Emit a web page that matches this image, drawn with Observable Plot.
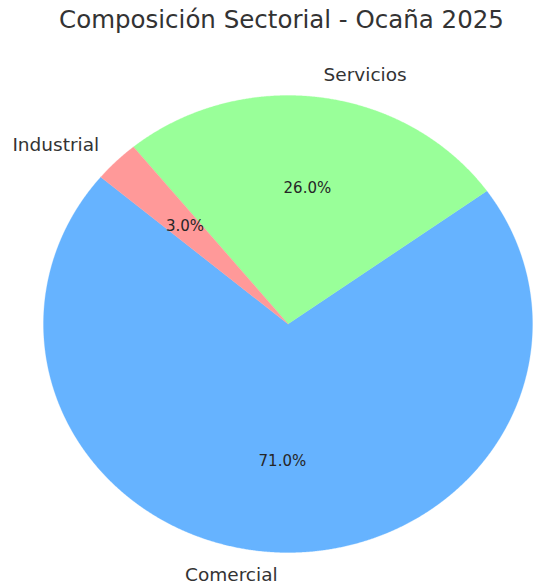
<!DOCTYPE html>
<html>
<head>
<meta charset="utf-8">
<script src="https://cdn.jsdelivr.net/npm/d3@7"></script>
<script src="https://cdn.jsdelivr.net/npm/@observablehq/plot@0.6"></script>
<style>
  html, body { margin: 0; padding: 0; background: white; }
  #title {
    width: 534px; box-sizing: border-box; height: 46px;
    padding-top: 8px; padding-left: 29px; text-align: center;
    font-family: "DejaVu Sans", sans-serif; font-size: 24.5px; line-height: 24.5px;
    color: #333; white-space: nowrap;
  }
</style>
</head>
<body>
<div id="title">Composición Sectorial - Ocaña 2025</div>
<div id="chart"></div>
<script>
const labels = ["Comercial", "Servicios", "Industrial"];
const values = [71, 26, 3];
const colors = ["#66b3ff", "#99ff99", "#ff9999"];
const startAngle = 140; // degrees, counter-clockwise

const total = d3.sum(values);
let acc = startAngle;
const slices = labels.map((label, i) => {
  const a0 = acc;
  const a1 = acc + 360 * values[i] / total;
  acc = a1;
  return {label, value: values[i], a0, a1, mid: (a0 + a1) / 2};
});

const rad = d => d * Math.PI / 180;
const polys = [];
for (const s of slices) {
  polys.push({label: s.label, x: 0, y: 0});
  const n = Math.max(2, Math.ceil((s.a1 - s.a0) / 0.25));
  for (let k = 0; k <= n; ++k) {
    const a = rad(s.a0 + (s.a1 - s.a0) * k / n);
    polys.push({label: s.label, x: Math.cos(a), y: Math.sin(a)});
  }
  polys.push({label: s.label, x: 0, y: 0});
}

const labelPts = slices.map(s => ({
  label: s.label,
  x: 1.1 * Math.cos(rad(s.mid)),
  y: 1.1 * Math.sin(rad(s.mid))
}));
const pctPts = slices.map(s => ({
  text: d3.format(".1f")(s.value / total * 100) + "%",
  x: 0.6 * Math.cos(rad(s.mid)),
  y: 0.6 * Math.sin(rad(s.mid))
}));

const W = 534, H = 538;
const cx = 287.5, cy = 277.5, rx = 244.5, ry = 228.5;

const chart = Plot.plot({
  width: W,
  height: H,
  margin: 0,
  x: {domain: [-cx / rx, (W - cx) / rx], axis: null},
  y: {domain: [-(H - cy) / ry, cy / ry], axis: null},
  color: {domain: labels, range: colors},
  style: {fontFamily: "DejaVu Sans, sans-serif", background: "white", overflow: "visible"},
  marks: [
    Plot.line(polys, {x: "x", y: "y", z: "label", fill: "label", stroke: "label", strokeWidth: 0.3, curve: "linear"}),
    Plot.text(labelPts.filter(d => d.x < 0), {x: "x", y: "y", text: "label", textAnchor: "end", fontSize: 18.5, fill: "#333"}),
    Plot.text(labelPts.filter(d => d.x >= 0), {x: "x", y: "y", text: "label", textAnchor: "start", fontSize: 18.5, fill: "#333"}),
    Plot.text(pctPts, {x: "x", y: "y", text: "text", fontSize: 15, fill: "#262626"})
  ]
});
document.getElementById("chart").appendChild(chart);
</script>
</body>
</html>
